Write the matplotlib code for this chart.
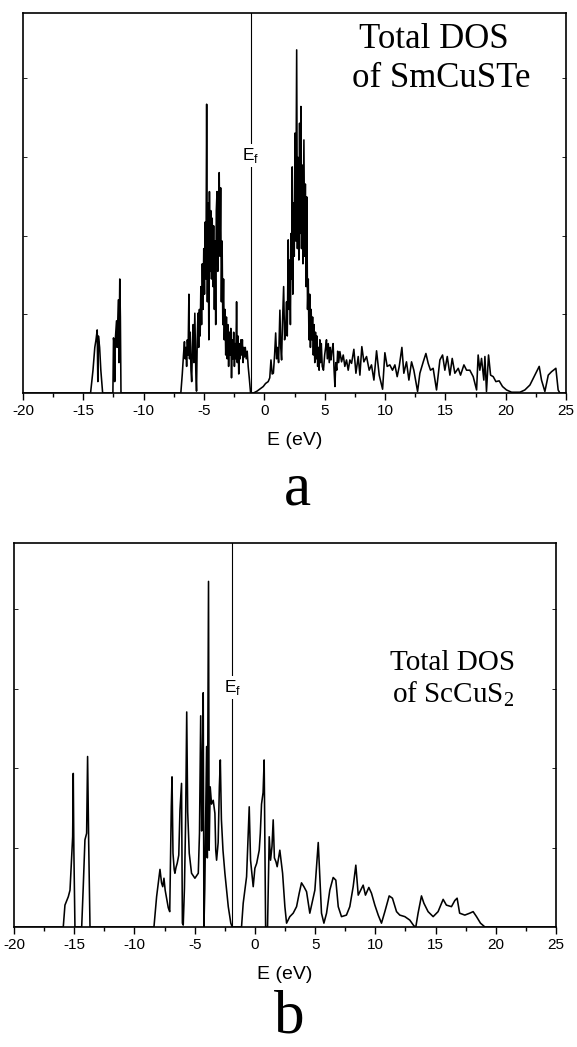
import numpy as np
import matplotlib.pyplot as plt
from matplotlib.ticker import MultipleLocator

plt.rcParams['font.family'] = ['Liberation Sans', 'DejaVu Sans']
plt.rcParams['axes.unicode_minus'] = False

# total DOS of SmCuSTe (panel a), energy in eV, DOS in % of frame height
e_a_low = [-20.0, -14.4, -14.2, -14.05, -13.95, -13.85, -13.8, -13.75, -13.65, -13.55, -13.4,
           -12.55, -12.5, -12.45, -12.4, -12.35, -12.25, -12.2, -12.1, -12.05, -11.98, -11.93, -11.88]
d_a_low = [0, 0, 6, 12, 14, 16.6, 3, 15, 12, 6, 0,
           0, 14.5, 13, 3, 14, 19, 12, 24.5, 8, 30, 20, 0]

e_a_val = [-6.92, -6.80, -6.70, -6.62, -6.56, -6.50, -6.44, -6.38, -6.32, -6.25, -6.20, -6.14,
           -6.08, -6.02, -5.96, -5.90, -5.84, -5.76, -5.68, -5.62, -5.56, -5.50, -5.44, -5.38,
           -5.32, -5.26, -5.20, -5.14, -5.08, -5.02, -4.96, -4.90, -4.84, -4.78, -4.72, -4.66,
           -4.60, -4.55, -4.50, -4.44, -4.38, -4.32, -4.26, -4.20, -4.14, -4.08, -4.03, -3.98,
           -3.92, -3.86, -3.80, -3.74, -3.68, -3.62, -3.56, -3.50, -3.44, -3.38, -3.32, -3.26,
           -3.20, -3.14, -3.08, -3.02, -2.96, -2.90, -2.84, -2.78, -2.72, -2.66, -2.60, -2.54,
           -2.48, -2.42, -2.36, -2.30, -2.24, -2.18, -2.12, -2.06, -2.00, -1.94, -1.88, -1.82,
           -1.76, -1.70, -1.64, -1.58, -1.50, -1.42, -1.34, -1.25, -1.14]
d_a_val = [0, 5, 10, 13.5, 9, 12, 7, 14, 10, 26, 9, 16,
           6, 3, 12, 18, 8, 21, 6, 0.5, 14, 21, 12, 22,
           15, 28, 18, 34, 22, 38, 26, 45, 30, 76, 24, 50,
           14, 53, 32, 48, 30, 46, 28, 44, 22, 40, 18, 48,
           53, 32, 50, 58, 36, 54, 24, 40, 18, 30, 14, 22,
           10, 20, 9, 18, 7, 16, 10, 17, 4, 14, 9, 16,
           7, 13, 9, 24, 8, 15, 5, 13, 9, 14, 10, 14,
           8, 12, 9.5, 12, 9, 11, 7, 4, 0]

e_a_con = [-0.90, -0.60, -0.30, -0.09, 0.10, 0.32, 0.45, 0.55, 0.65, 0.75, 0.85, 0.94,
           1.02, 1.10, 1.18, 1.29, 1.36, 1.43, 1.50, 1.60, 1.68, 1.77, 1.84, 1.90,
           1.98, 2.04, 2.10, 2.16, 2.22, 2.28, 2.31, 2.36, 2.42, 2.48, 2.54, 2.60,
           2.68, 2.74, 2.80, 2.86, 2.92, 2.98, 3.03, 3.08, 3.14, 3.20, 3.28, 3.34,
           3.40, 3.46, 3.52, 3.58, 3.64, 3.70, 3.76, 3.82, 3.88, 3.94, 4.00, 4.06,
           4.12, 4.18, 4.24, 4.30, 4.36, 4.42, 4.48, 4.54, 4.60, 4.66, 4.72, 4.80,
           4.90, 5.00, 5.08, 5.15, 5.22, 5.30, 5.38, 5.45, 5.52, 5.60, 5.70, 5.78,
           5.85, 5.92, 6.00, 6.08, 6.16, 6.26]
d_a_con = [0, 0.5, 1.2, 1.7, 2.5, 3.0, 4, 8.7, 5, 5.2, 10, 15.8,
           9, 12, 8, 21.8, 12, 8.7, 18, 28, 14, 17, 24, 15,
           40.3, 22, 35, 18, 42, 30, 59.5, 26, 50, 36, 68.4, 40,
           90.3, 38, 62, 35, 71, 42, 75.4, 38, 60, 34, 66.6, 36,
           55, 28, 51.6, 22, 30, 14, 26, 12, 22, 14, 20, 10,
           18, 8, 16, 9, 15, 7, 12, 6, 14, 8, 13, 7,
           6, 10, 12, 14, 9, 13, 8, 12, 8.7, 11, 13, 6,
           1.7, 8, 6, 11, 8, 10.9]

e_a_tail = [6.40, 6.54, 6.67, 6.81, 6.95, 7.09, 7.23, 7.42, 7.59, 7.78, 7.92, 8.08,
            8.25, 8.47, 8.69, 8.88, 9.08, 9.30, 9.52, 9.80, 9.99, 10.18, 10.40, 10.62,
            10.82, 11.01, 11.18, 11.40, 11.56, 11.78, 11.98, 12.20, 12.39, 12.70, 12.89, 13.17,
            13.39, 13.58, 13.77, 13.99, 14.27, 14.55, 14.77, 14.96, 15.16, 15.38, 15.57, 15.79,
            16.07, 16.26, 16.54, 16.76, 17.03, 17.31, 17.59, 17.72, 17.86, 18.00, 18.19, 18.28,
            18.41, 18.58, 18.75, 18.97, 19.19, 19.46, 19.74, 20.07, 20.49, 21.18, 21.59, 22.01,
            22.42, 22.78, 22.97, 23.25, 23.53, 23.80, 24.16, 24.35, 24.49, 25.0]
d_a_tail = [8.2, 10, 7, 8.7, 6, 8.7, 7.8, 11.5, 5.2, 9.6, 4.7, 12.2,
            8.2, 9.6, 6, 7.4, 3.4, 11.1, 4.7, 1, 10.6, 7, 7.4, 6,
            7.4, 4.3, 7, 12, 5.2, 8.2, 3.4, 8.2, 6, 0.4, 5.2, 8.2,
            10.4, 7.8, 6, 6.5, 0.8, 8.7, 10, 6, 9.6, 4.7, 9.1, 5.2,
            6.5, 4.7, 7.4, 6, 6, 4.3, 0.8, 10, 6, 9.1, 3.4, 9.6,
            0.4, 10, 4.7, 4.3, 3, 3.2, 1.7, 0.8, 0.2, 0.2, 0.8, 2.1,
            4.7, 7, 3.4, 0.4, 4.7, 5.6, 6.5, 0.8, 0, 0]

# total DOS of ScCuS2 (panel b)
e_b_low = [-20.0, -15.91, -15.77, -15.49, -15.35, -15.21, -15.13, -15.08, -15.03, -14.94,
           -14.38, -14.25, -14.11, -13.97, -13.89, -13.80, -13.69]
d_b_low = [0, 0, 5.7, 7.9, 9.6, 18.3, 23.5, 40, 20, 0,
           0, 10.5, 22.7, 24.4, 44.4, 22, 0]

e_b_val = [-8.38, -8.16, -7.88, -7.75, -7.65, -7.55, -7.45, -7.30, -7.19, -7.07, -6.94, -6.88,
           -6.80, -6.70, -6.64, -6.55, -6.45, -6.32, -6.22, -6.09, -6.02, -5.95, -5.85, -5.75,
           -5.66, -5.58, -5.45, -5.26, -4.98, -4.70, -4.60, -4.50, -4.42, -4.36, -4.29, -4.23,
           -4.16, -4.09, -4.01, -3.95, -3.85, -3.80, -3.71, -3.60, -3.46, -3.32, -3.25, -3.18,
           -3.05, -2.95, -2.87, -2.78, -2.65, -2.49, -2.21, -2.00, -1.88]
d_b_val = [0, 7.9, 15, 11.5, 10.5, 12.7, 9.6, 7, 5, 4, 31.3, 39.1,
           19.2, 15, 14, 15.5, 16.6, 18.7, 30.5, 37.4, 1, 0.5, 10, 27.9,
           56, 30, 19.2, 14, 12.7, 14, 24.4, 55, 25, 40, 61, 0,
           10, 27.9, 47, 18, 90, 20, 36.5, 32, 33, 29.6, 20, 17.4,
           22, 36.5, 43.5, 28, 20, 14, 5.3, 1, 0]

e_b_con = [-1.11, -0.97, -0.69, -0.47, -0.36, -0.14, 0.0, 0.15, 0.36, 0.45, 0.55, 0.68,
           0.77, 0.89, 1.05, 1.19, 1.30, 1.42, 1.52, 1.62, 1.75, 1.85, 2.07, 2.30,
           2.49, 2.63, 2.90, 3.18, 3.46, 3.68, 3.87, 4.07, 4.29, 4.56, 4.98, 5.26,
           5.53, 5.73, 5.95, 6.22, 6.50, 6.72, 6.92, 7.19, 7.60, 7.88, 8.16, 8.38,
           8.58, 8.99, 9.18, 9.46, 9.68, 9.96, 10.24, 10.51, 10.79, 11.15, 11.42, 11.76,
           12.03, 12.45, 12.86, 13.20, 13.36, 13.55, 13.83, 14.03, 14.38, 14.80, 15.21, 15.63,
           15.90, 16.32, 16.60, 16.79, 17.00, 17.43, 17.84, 18.12, 18.40, 18.73, 19.10, 25.0]
d_b_con = [0, 6.2, 13.1, 31.3, 17.4, 10.5, 15.3, 16.6, 20, 24.4, 32, 35,
           43.5, 0, 0, 23.5, 17.4, 21, 27.9, 18, 17, 15.7, 20, 14,
           5.3, 1, 2.7, 3.6, 5.3, 8.8, 11.5, 10.5, 9.2, 3.6, 9.6, 22,
           3.6, 1, 3.6, 9.6, 12.9, 12.2, 5.3, 2.7, 3.1, 5.3, 10.5, 16.1,
           8.3, 10.9, 8.3, 10.3, 8.8, 5.7, 3.1, 1, 4, 8.1, 7.5, 4,
           3.1, 2.7, 1.8, 0.3, 0, 3.6, 8.1, 6.2, 4, 2.7, 4, 7.2,
           5.7, 5.3, 6.9, 7.5, 3.6, 3.1, 3.6, 4, 2.7, 1, 0, 0]

ef_a = -1.14
ef_b = -1.88
xticks = [-20, -15, -10, -5, 0, 5, 10, 15, 20, 25]

panels = [
    dict(e=e_a_low + e_a_val + e_a_con + e_a_tail,
         d=d_a_low + d_a_val + d_a_con + d_a_tail,
         ef=ef_a, rect=[23 / 577, 654 / 1047, 543 / 577, 380 / 1047],
         title=[('Total DOS', 7.84, 0.908), ('of SmCuSTe', 7.26, 0.805)], tsize=25,
         ef_y=0.613, letter=('a', 0.516, 0.518)),
    dict(e=e_b_low + e_b_val + e_b_con,
         d=d_b_low + d_b_val + d_b_con,
         ef=ef_b, rect=[14 / 577, 120 / 1047, 542 / 577, 384 / 1047],
         title=[('Total DOS', 11.2, 0.668), (r'of ScCuS$_\mathregular{2}$', 11.37, 0.586)], tsize=21,
         ef_y=0.612, letter=('b', 0.502, 0.014)),
]

fig = plt.figure(figsize=(5.77, 10.47), dpi=100)

for p in panels:
    ax = fig.add_axes(p['rect'])
    ax.plot(p['e'], p['d'], color='black', lw=1.15)
    ax.axvline(p['ef'], color='black', lw=0.8)
    ax.text(p['ef'], p['ef_y'], r'E$_\mathregular{f}$', transform=ax.get_xaxis_transform(),
            ha='center', va='baseline', fontsize=12.5,
            bbox=dict(facecolor='white', edgecolor='none', pad=1.5))
    for txt, x, y in p['title']:
        ax.text(x, y, txt, transform=ax.get_xaxis_transform(), ha='left', va='baseline',
                fontsize=p['tsize'], family=['Liberation Serif', 'DejaVu Serif'])

    ax.set_xlim(-20, 25)
    ax.set_ylim(0, 100)
    ax.set_xticks(xticks)
    ax.xaxis.set_minor_locator(MultipleLocator(2.5))
    ax.set_yticks(np.arange(1, 5) * 20.7)
    ax.set_yticklabels([])
    ax.tick_params(axis='x', which='major', direction='out', length=5, width=1, labelsize=11, pad=3)
    ax.tick_params(axis='x', which='minor', direction='out', length=3, width=1)
    ax.tick_params(axis='y', direction='in', length=3, width=0.6, left=True, right=True)
    for s in ax.spines.values():
        s.set_linewidth(1.2)
    ax.set_xlabel('E (eV)', fontsize=14, labelpad=10)

    let, lx, ly = p['letter']
    fig.text(lx, ly, let, ha='center', va='baseline', fontsize=44,
             family=['Liberation Serif', 'DejaVu Serif'])

fig.savefig('out.png', dpi=100)
